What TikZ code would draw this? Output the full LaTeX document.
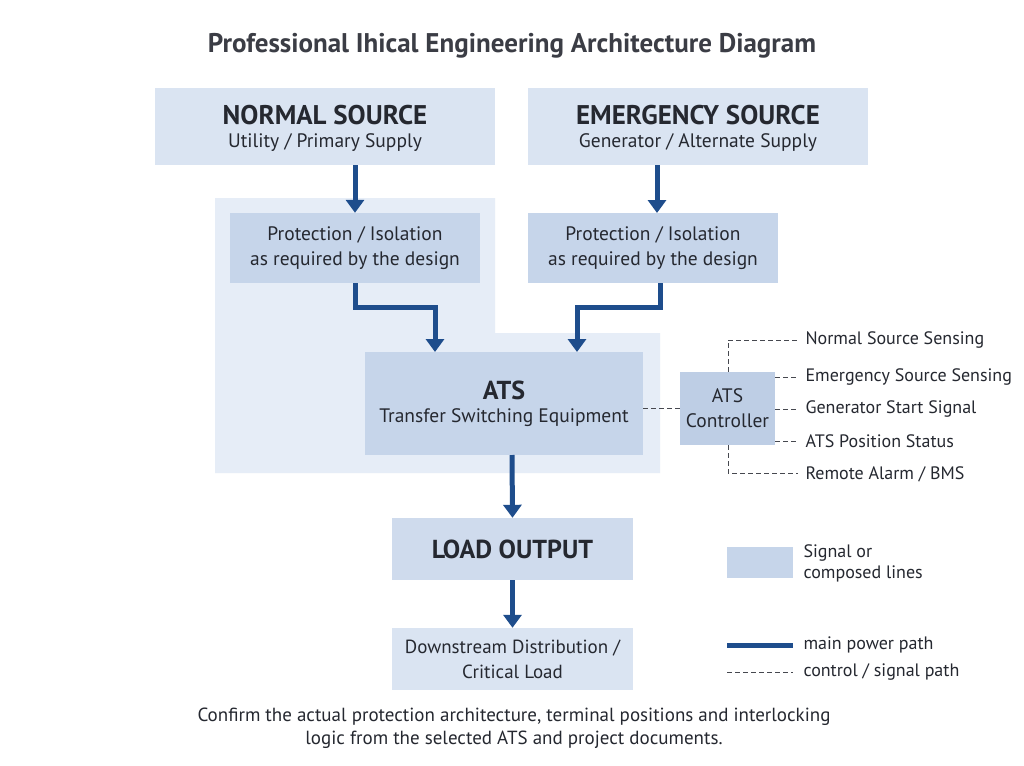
\documentclass[tikz,border=0pt]{standalone}
\usepackage{fontspec}
\setmainfont{PT Sans}
\usepackage{tikz}
\usetikzlibrary{positioning, arrows.meta}
\definecolor{ats_dark}{HTML}{1E4D8C}
\definecolor{ats_pale}{HTML}{E6EDF7}
\definecolor{ats_light}{HTML}{DAE4F2}
\definecolor{ats_mid}{HTML}{C6D5EA}
\definecolor{ats_text}{HTML}{252830}
\tikzset{
  box/.style={draw=none, fill=ats_mid, text=ats_text, align=center, inner sep=0pt},
  power/.style={ats_dark, line width=5pt, -{Triangle[length=13pt,width=18pt]}},
  signal/.style={ats_text!85, line width=0.9pt, dash pattern=on 5pt off 3pt},
  lbl/.style={text=ats_text, anchor=west, font=\fontsize{18}{20}\selectfont},
}

\begin{document}
\begin{tikzpicture}[x=1pt, y=-1pt]
            \useasboundingbox (0,0) rectangle (1024,765);
            \fill[white] (0,0) rectangle (1024,765);

            % background zone
            \fill[ats_pale] (215,198) -- (495,198) -- (495,333) -- (660,333) -- (660,473) -- (215,473) -- cycle;

            \node[ats_text!90, font=\fontsize{27}{30}\selectfont\bfseries] (title) at (512,46) {Professional Ihical Engineering Architecture Diagram};

            % sources
            \node[box, fill=ats_light, minimum width=340pt, minimum height=77pt] (normal) at (325,126.5) {};
            \node[ats_text, font=\fontsize{27}{29}\selectfont\bfseries] (normalT) at (325,115) {NORMAL SOURCE};
            \node[ats_text, font=\fontsize{19.5}{21}\selectfont] (normalS) at (325,143) {Utility / Primary Supply};
            \node[box, fill=ats_light, minimum width=340pt, minimum height=77pt] (emerg) at (698,126.5) {};
            \node[ats_text, font=\fontsize{27}{29}\selectfont\bfseries] (emergT) at (698,115) {EMERGENCY SOURCE};
            \node[ats_text, font=\fontsize{19.5}{21}\selectfont] (emergS) at (698,143) {Generator / Alternate Supply};

            % protection
            \node[box, minimum width=250pt, minimum height=70pt, font=\fontsize{19.5}{25}\selectfont] (protN) at (355,248) {Protection / Isolation\\as required by the design};
            \node[box, minimum width=250pt, minimum height=70pt, font=\fontsize{19.5}{25}\selectfont] (protE) at (653,248) {Protection / Isolation\\as required by the design};

            % ATS
            \node[box, minimum width=278pt, minimum height=103pt] (ats) at (504,403.5) {};
            \node[ats_text, font=\fontsize{26}{28}\selectfont\bfseries] (atsT) at (504,390) {ATS};
            \node[ats_text, font=\fontsize{19.5}{21}\selectfont] (atsS) at (504,418) {Transfer Switching Equipment};
            \node[box, fill=ats_mid!95!ats_dark, minimum width=95pt, minimum height=73pt, font=\fontsize{19.5}{25}\selectfont] (ctrl) at (727.5,408.5) {ATS\\Controller};

            % load
            \node[box, fill=ats_mid!85, minimum width=241pt, minimum height=62pt, font=\fontsize{26}{28}\selectfont\bfseries] (load) at (512.5,549) {LOAD OUTPUT};
            \node[box, fill=ats_light, minimum width=241pt, minimum height=62pt, font=\fontsize{19}{25}\selectfont] (down) at (512.5,659) {Downstream Distribution /\\Critical Load};

            % main power path
            \coordinate (normalOut) at (355,165);
            \coordinate (emergOut) at (657,165);
            \coordinate (atsInN) at (435,352);
            \coordinate (atsInE) at (577,352);
            \coordinate (atsOut) at (512,455);
            \draw[power] (normalOut) -- (protN.north);
            \draw[power] (emergOut) -- (657,213);
            \draw[power] (protN.south) -- (355,307) -- (435,307) -- (atsInN);
            \draw[power] (protE.south -| 660,0) ++(0,0) -- (660,307) -- (577,307) -- (atsInE);
            \draw[power] (atsOut) -- (load.north);
            \draw[power] (load.south) -- (down.north);

            % control / signal path
            \draw[signal] (ats.east |- ctrl.west) -- (ctrl.west);
            \coordinate (busTop) at (728,340);
            \coordinate (busBot) at (728,473);
            \draw[signal] (ctrl.north -| busTop) -- (busTop) -- (798,340);
            \draw[signal] (ctrl.south -| busBot) -- (busBot) -- (798,473);
            \foreach \y in {377,409,441}
                \draw[signal] (775,\y) -- (798,\y);
            \node[lbl] (sig1) at (802,340) {Normal Source Sensing};
            \node[lbl] (sig2) at (802,377) {Emergency Source Sensing};
            \node[lbl] (sig3) at (802,409) {Generator Start Signal};
            \node[lbl] (sig4) at (802,441) {ATS Position Status};
            \node[lbl] (sig5) at (802,474) {Remote Alarm / BMS};

            % legend
            \node[box, fill=ats_mid, minimum width=66pt, minimum height=31pt] (legBox) at (760,562.5) {};
            \node[lbl, align=left, font=\fontsize{18}{21}\selectfont] (legBoxT) at (800,563) {Signal or\\composed lines};
            \coordinate (legPa) at (727,645);
            \coordinate (legPb) at (793,645);
            \draw[ats_dark, line width=5pt] (legPa) -- (legPb);
            \node[lbl] (legP) at (800,645) {main power path};
            \coordinate (legSa) at (727,672);
            \coordinate (legSb) at (793,672);
            \draw[signal] (legSa) -- (legSb);
            \node[lbl] (legS) at (800,672) {control / signal path};

            \node[ats_text, align=center, font=\fontsize{19}{23}\selectfont] (note) at (514,728) {Confirm the actual protection architecture, terminal positions and interlocking\\logic from the selected ATS and project documents.};
\end{tikzpicture}
\end{document}
